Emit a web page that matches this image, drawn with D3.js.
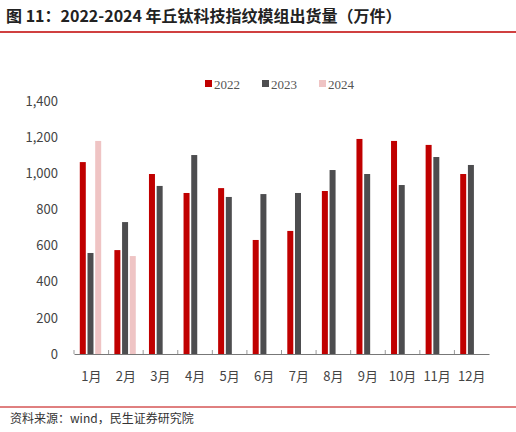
<!DOCTYPE html><html><head><meta charset="utf-8"><script src="https://cdn.jsdelivr.net/npm/d3@7"></script>
<style>body{margin:0;background:#fff}text{font-family:"Noto Sans CJK SC",sans-serif}</style></head><body><svg id="c" width="516" height="432"></svg>
<script>
const categories=["1月","2月","3月","4月","5月","6月","7月","8月","9月","10月","11月","12月"];
const s2022=[1062,575,996,891,918,631,681,902,1190,1179,1157,996];
const s2023=[559,730,930,1101,869,885,891,1018,996,935,1090,1046];
const s2024=[1179,542,null,null,null,null,null,null,null,null,null,null];
const seriesNames=["2022","2023","2024"];
const colors=["#c00000","#4d4d4f","#efc4c4"];
const yTicks=[0,200,400,600,800,1000,1200,1400];
const svg=d3.select("#c");
svg.append("text").attr("x",6).attr("y",22).attr("font-size",16).attr("font-weight","bold").attr("fill","#222").text("图 11：2022-2024 年丘钛科技指纹模组出货量（万件）");
svg.append("line").attr("x1",0).attr("x2",516).attr("y1",32).attr("y2",32).attr("stroke","#c00000").attr("stroke-width",1.5);
const x=d3.scaleBand().domain(categories).range([74,489]);
const y=d3.scaleLinear().domain([0,1400]).range([354,101]);
svg.append("g").attr("transform","translate(74,0)").call(d3.axisLeft(y).tickValues(yTicks).tickSize(0).tickPadding(16).tickFormat(d3.format(",")))
 .call(g=>g.select(".domain").remove()).selectAll("text").attr("font-size",13).attr("fill","#444").style("font-family","Noto Sans CJK SC");
const xa=svg.append("g").attr("transform","translate(0,354)").call(d3.axisBottom(x).tickSize(4).tickPadding(14).tickSizeOuter(0));
xa.select(".domain").attr("stroke","#777");xa.selectAll("line").attr("stroke","#999").attr("transform",`translate(${-x.bandwidth()/2},-4)`);
xa.selectAll("text").attr("font-size",13).attr("fill","#444").style("font-family","Noto Sans CJK SC");
const bw=6,gap=1.7;
[s2022,s2023,s2024].forEach((s,i)=>{
 svg.append("g").selectAll("rect").data(categories.map((c,j)=>({c,v:s[j]})).filter(d=>d.v!=null)).join("rect")
 .attr("x",d=>x(d.c)+x.bandwidth()/2-11.5+i*(bw+gap)-3+3).attr("width",bw)
 .attr("y",d=>y(d.v)).attr("height",d=>354-y(d.v)).attr("fill",colors[i]);
});
const lg=svg.append("g");
seriesNames.forEach((n,i)=>{const lx=205+i*57;
 lg.append("rect").attr("x",lx).attr("y",80).attr("width",7).attr("height",7).attr("fill",colors[i]);
 lg.append("text").attr("x",lx+9).attr("y",89).attr("font-size",13).attr("fill","#555").style("font-family","Liberation Serif").text(n);});
svg.append("line").attr("x1",0).attr("x2",516).attr("y1",407).attr("y2",407).attr("stroke","#c00000").attr("stroke-width",1);
svg.append("text").attr("x",10).attr("y",423).attr("font-size",12).attr("fill","#333").text("资料来源：wind，民生证券研究院");
</script></body></html>
